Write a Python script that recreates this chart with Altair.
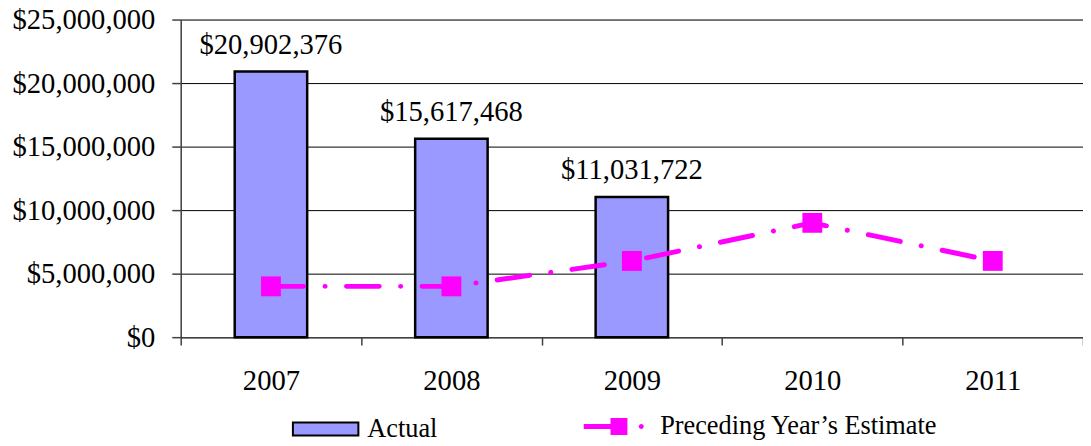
import altair as alt
import pandas as pd

years = ["2007", "2008", "2009", "2010", "2011"]
actual = [20902376, 15617468, 11031722, None, None]
estimate = [4000000, 4000000, 6000000, 9000000, 6000000]
actual_name = "Actual"
estimate_name = "Preceding Year\u2019s Estimate"
y_ticks = [0, 5000000, 10000000, 15000000, 20000000, 25000000]

df = pd.DataFrame({
    "year": years,
    "actual": actual,
    "estimate": estimate,
    "s1": [actual_name] * 5,
    "s2": [estimate_name] * 5,
})

FONT = "'Liberation Serif', 'Times New Roman', Times, serif"
AX = 28.8

x_scale = alt.Scale(paddingInner=0, paddingOuter=0)

x_enc = alt.X("year:N", sort=years, title=None, scale=x_scale,
              axis=alt.Axis(labelAngle=0, tickBand="extent", tickSize=8, labelPadding=22,
                            labelFont=FONT, labelFontSize=AX, labelColor="black",
                            domainColor="#404040", tickColor="#404040", domainWidth=1.5,
                            tickWidth=1.5, grid=False))

y_scale = alt.Scale(domain=[0, 25000000], nice=False)

bar_path = "M-0.97,-0.19H0.97V0.19H-0.97Z"
est_path = ("M-0.906,-0.078H-0.0625V0.078H-0.906Z "
            "M-0.0625,-0.266H0.469V0.266H-0.0625Z "
            "M0.828,0A0.078,0.078 0 1,0 0.984,0A0.078,0.078 0 1,0 0.828,0Z")

base = alt.Chart(df)

bars = base.transform_filter("isValid(datum.actual)").mark_bar(
    width=73, stroke="black", strokeWidth=2.5
).encode(
    x=x_enc,
    y=alt.Y("actual:Q", scale=y_scale, title=None,
            axis=alt.Axis(values=y_ticks, format="$,.0f", tickSize=9, labelPadding=17,
                          labelFont=FONT, labelFontSize=AX, labelColor="black",
                          grid=True, gridColor="black", gridWidth=1,
                          domainColor="#404040", tickColor="#404040",
                          domainWidth=1.5, tickWidth=1.5)),
    fill=alt.Fill("s1:N", scale=alt.Scale(domain=[actual_name], range=["#9999FF"]),
                  legend=alt.Legend(orient="none", legendX=111, legendY=377.5, title=None,
                                    symbolType=bar_path, symbolSize=4624,
                                    symbolStrokeColor="black", symbolStrokeWidth=2,
                                    labelFont=FONT, labelFontSize=26.5, labelColor="black",
                                    labelOffset=7, padding=0, labelLimit=500)),
)

labels = base.transform_filter("isValid(datum.actual)").mark_text(
    dy=-18, baseline="alphabetic", font=FONT, fontSize=AX, color="black"
).encode(
    x=alt.X("year:N", sort=years, scale=x_scale),
    y=alt.Y("actual:Q", scale=y_scale),
    text=alt.Text("actual:Q", format="$,.0f"),
)

line = base.mark_line(
    color="#FF00FF", strokeWidth=5, strokeDash=[33, 21.5, 0.1, 21.5], strokeCap="round"
).encode(
    x=alt.X("year:N", sort=years, scale=x_scale),
    y=alt.Y("estimate:Q", scale=y_scale),
)

points = base.mark_square(size=400, filled=True, opacity=1, strokeWidth=0).encode(
    x=alt.X("year:N", sort=years, scale=x_scale),
    y=alt.Y("estimate:Q", scale=y_scale),
    fill=alt.Fill("s2:N", scale=alt.Scale(domain=[estimate_name], range=["#FF00FF"]),
                  legend=alt.Legend(orient="none", legendX=403, legendY=378, title=None,
                                    symbolType=est_path, symbolSize=4096,
                                    symbolStrokeWidth=0, symbolOpacity=1,
                                    labelFont=FONT, labelFontSize=26.5, labelColor="black",
                                    labelOffset=16, padding=0, labelLimit=500)),
)

chart = alt.layer(bars, line, points, labels).resolve_scale(
    fill="independent"
).resolve_legend(fill="independent").properties(
    width=909, height=320,
    autosize=alt.AutoSizeParams(type="none"),
    padding={"left": 174, "top": 10, "right": 0, "bottom": 108},
).configure_view(stroke=None).configure(background="white")

chart.save("out.html", embed_options={"renderer": "svg", "actions": False})
